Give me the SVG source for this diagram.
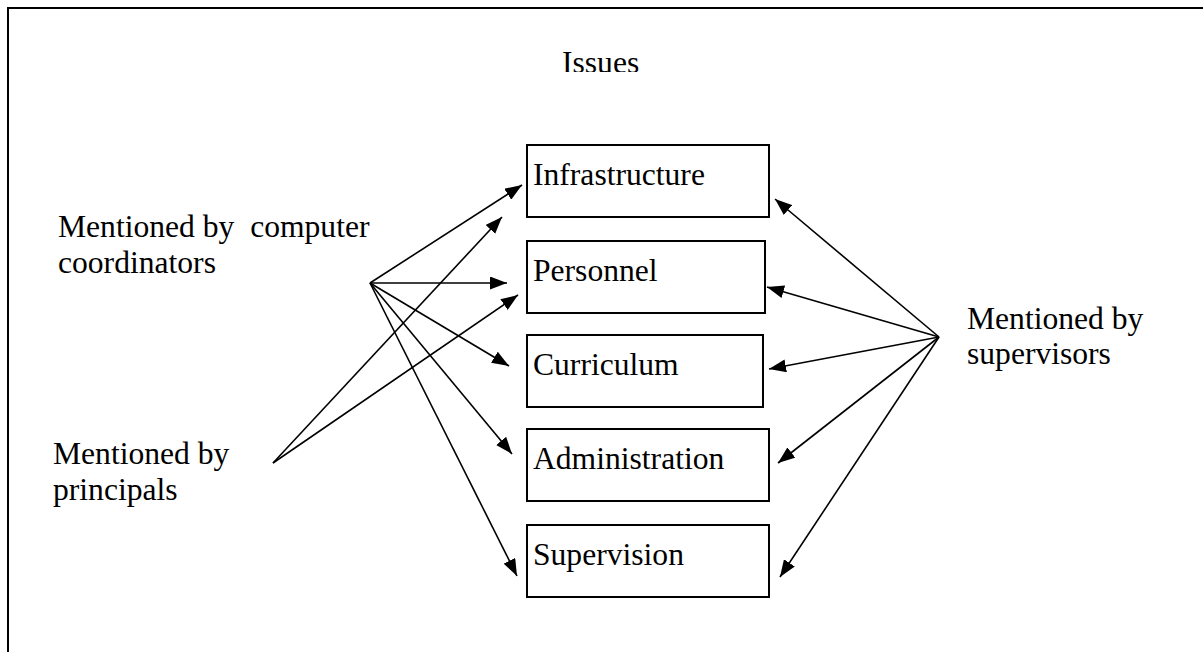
<svg xmlns="http://www.w3.org/2000/svg" width="1203" height="652" viewBox="0 0 1203 652">
<defs>
<marker id="ah" markerUnits="userSpaceOnUse" markerWidth="17" markerHeight="13" refX="17" refY="6.5" orient="auto">
<path d="M0,0 L17,6.5 L0,13 z" fill="#000"/>
</marker>
<clipPath id="issuesClip"><rect x="500" y="20" width="220" height="52"/></clipPath>
<style>
.t{font-family:'Liberation Serif','Times New Roman',serif;font-size:31.6px;fill:#000}
.box{fill:#fff;stroke:#000;stroke-width:2}
.c line{stroke:#000;stroke-width:1.6;marker-end:url(#ah)}
</style>
</defs>
<rect x="0" y="0" width="1203" height="652" fill="#fff"/>
<rect x="8" y="8" width="1210" height="700" fill="none" stroke="#000" stroke-width="2"/>
<g id="title" clip-path="url(#issuesClip)"><text class="t" x="562" y="73" font-size="34">Issues</text></g>
<g id="n-coord"><text class="t" x="58" y="237" xml:space="preserve">Mentioned by  computer</text><text class="t" x="58" y="273">coordinators</text></g>
<g id="n-princ"><text class="t" x="53" y="464">Mentioned by</text><text class="t" x="53" y="500">principals</text></g>
<g id="n-sup"><text class="t" x="967" y="329">Mentioned by</text><text class="t" x="967" y="364">supervisors</text></g>
<g id="n-infra"><rect class="box" x="527" y="145" width="242" height="72"/><text class="t" x="533" y="185">Infrastructure</text></g>
<g id="n-pers"><rect class="box" x="527" y="241" width="238" height="72"/><text class="t" x="533" y="281">Personnel</text></g>
<g id="n-curr"><rect class="box" x="527" y="335" width="236" height="72"/><text class="t" x="533" y="375">Curriculum</text></g>
<g id="n-admin"><rect class="box" x="527" y="429" width="242" height="72"/><text class="t" x="533" y="469">Administration</text></g>
<g id="n-superv"><rect class="box" x="527" y="525" width="242" height="72"/><text class="t" x="533" y="565">Supervision</text></g>
<g class="c" id="connectors">
<line x1="370" y1="283" x2="522" y2="185"/>
<line x1="370" y1="283" x2="507" y2="283"/>
<line x1="370" y1="283" x2="509" y2="366"/>
<line x1="370" y1="283" x2="512" y2="454"/>
<line x1="370" y1="283" x2="517" y2="576"/>
<line x1="273" y1="463" x2="502" y2="217"/>
<line x1="273" y1="463" x2="518" y2="295"/>
<line x1="939" y1="337" x2="775" y2="199"/>
<line x1="939" y1="337" x2="767" y2="287"/>
<line x1="939" y1="337" x2="769" y2="369"/>
<line x1="939" y1="337" x2="778" y2="463"/>
<line x1="939" y1="337" x2="780" y2="577"/>
</g>
</svg>
